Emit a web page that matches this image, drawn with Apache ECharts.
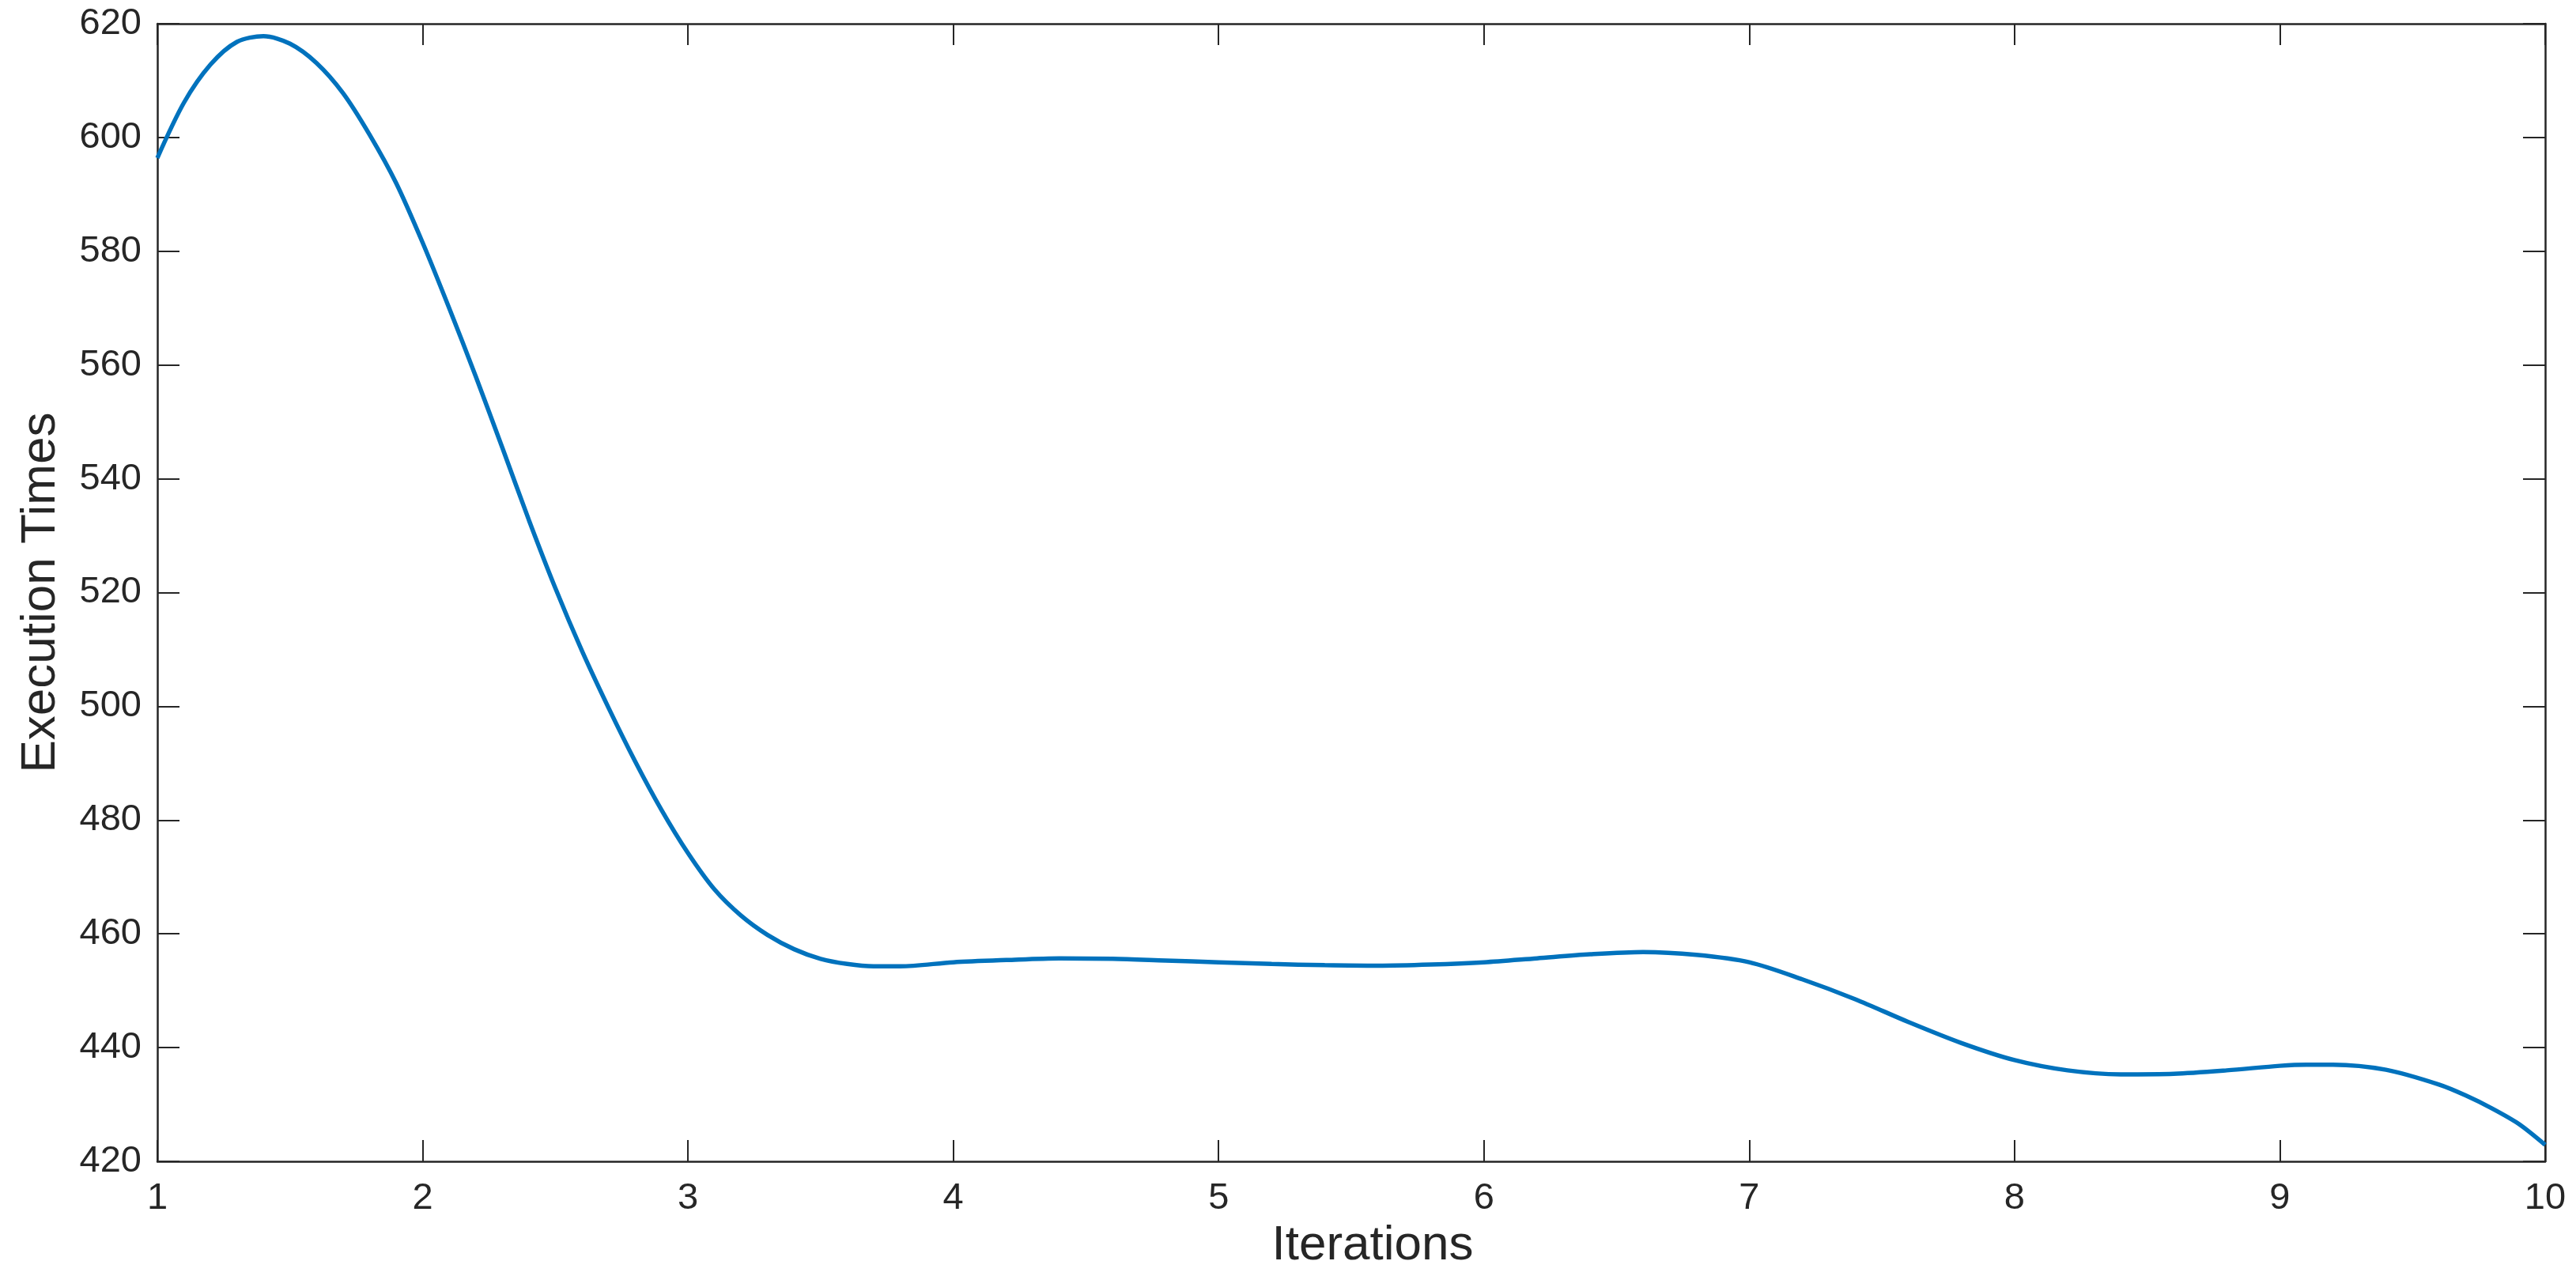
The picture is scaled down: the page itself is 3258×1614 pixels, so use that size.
<!DOCTYPE html>
<html>
<head>
<meta charset="utf-8">
<title>Execution Times</title>
<script src="https://cdn.jsdelivr.net/npm/echarts@6/dist/echarts.min.js"></script>
<style>
    html, body { margin: 0; padding: 0; background: #fff; }
    #chart { width: 3258px; height: 1614px; }
</style>
</head>
<body>
<div id="chart"></div>
<script>
// Iteration positions (x)
const iterations = [
    1.0, 1.1, 1.2, 1.3, 1.4, 1.5, 1.6, 1.7, 1.8, 1.9,
    2.0, 2.1, 2.2, 2.3, 2.4, 2.5, 2.6, 2.7, 2.8, 2.9,
    3.0, 3.1, 3.2, 3.3, 3.4, 3.5, 3.6, 3.7, 3.8,
    4.0, 4.2, 4.4, 4.6, 4.8, 5.0, 5.2, 5.4, 5.6, 5.8,
    6.0, 6.2, 6.4, 6.6, 6.8, 7.0, 7.2, 7.4, 7.6, 7.8,
    8.0, 8.2, 8.4, 8.6, 8.8, 9.0, 9.1, 9.2, 9.4, 9.6,
    9.7, 9.8, 9.9, 10.0
];

// Execution times at those positions
const executionTimes = [
    596.4, 606.1, 612.8, 616.8, 617.8, 616.5, 613.1, 607.8, 600.5, 592.0,
    581.5, 570.0, 558.0, 545.5, 532.8, 520.8, 509.8, 499.8, 490.4, 481.8,
    474.2, 467.8, 463.2, 459.8, 457.3, 455.6, 454.7, 454.3, 454.3,
    455.0, 455.4, 455.7, 455.6, 455.3, 455.0, 454.7, 454.5, 454.4, 454.6,
    455.0, 455.7, 456.4, 456.8, 456.3, 455.0, 452.0, 448.5, 444.5, 440.8,
    437.8, 436.0, 435.3, 435.4, 436.0, 436.8, 437.0, 437.0, 436.1, 433.5,
    431.6, 429.3, 426.6, 422.9
];

const xRange = { min: 1, max: 10, interval: 1 };
const yRange = { min: 420, max: 620, interval: 20 };

const textColor = '#262626';
const fontFamily = '"Liberation Sans", Arial, Helvetica, sans-serif';

const chart = echarts.init(document.getElementById('chart'));

// Shared axis frame: box on all four sides, ticks pointing in
const frameLine = { show: true, onZero: false, lineStyle: { color: textColor, width: 2.5 } };
const frameTick = (len) => ({ show: true, inside: true, length: len, lineStyle: { color: textColor, width: 2 } });

const option = {
    animation: false,
    backgroundColor: '#ffffff',
    grid: { left: 199, right: 39, top: 30, bottom: 145, containLabel: false },
    xAxis: [
        {
            type: 'value',
            position: 'bottom',
            min: xRange.min, max: xRange.max, interval: xRange.interval,
            name: 'Iterations',
            nameLocation: 'middle',
            nameGap: 64,
            nameTextStyle: { color: textColor, fontSize: 62, fontFamily: fontFamily, padding: [0, 0, 0, 54] },
            axisLine: frameLine,
            axisTick: frameTick(27),
            axisLabel: { color: textColor, fontSize: 47, fontFamily: fontFamily, margin: 24 },
            splitLine: { show: false }
        },
        {
            type: 'value',
            position: 'top',
            min: xRange.min, max: xRange.max, interval: xRange.interval,
            axisLine: frameLine,
            axisTick: frameTick(27),
            axisLabel: { show: false },
            splitLine: { show: false }
        }
    ],
    yAxis: [
        {
            type: 'value',
            position: 'left',
            min: yRange.min, max: yRange.max, interval: yRange.interval,
            name: 'Execution Times',
            nameLocation: 'middle',
            nameGap: 116,
            nameTextStyle: { color: textColor, fontSize: 62, fontFamily: fontFamily },
            axisLine: frameLine,
            axisTick: frameTick(28),
            axisLabel: { color: textColor, fontSize: 47, fontFamily: fontFamily, margin: 20 },
            splitLine: { show: false }
        },
        {
            type: 'value',
            position: 'right',
            min: yRange.min, max: yRange.max, interval: yRange.interval,
            axisLine: frameLine,
            axisTick: frameTick(28),
            axisLabel: { show: false },
            splitLine: { show: false }
        }
    ],
    series: [
        {
            type: 'line',
            xAxisIndex: 0,
            yAxisIndex: 0,
            data: iterations.map((x, i) => [x, executionTimes[i]]),
            showSymbol: false,
            smooth: 0.3,
            lineStyle: { color: '#0072BD', width: 5.5 },
            clip: true
        }
    ]
};

chart.setOption(option);
</script>
</body>
</html>
